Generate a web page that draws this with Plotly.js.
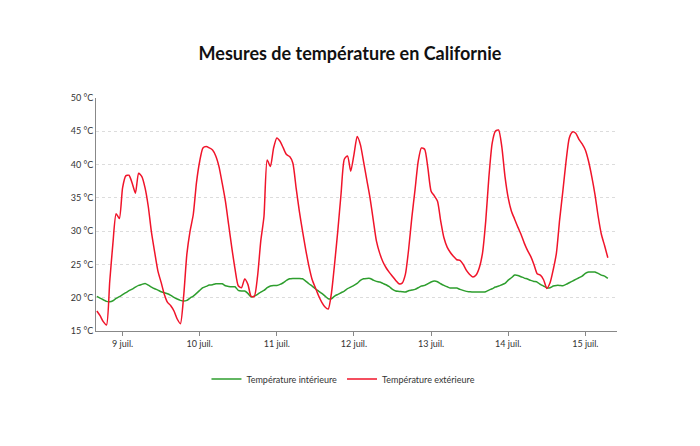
<!DOCTYPE html>
<html>
<head>
<meta charset="utf-8">
<script src="https://cdn.plot.ly/plotly-3.0.1.min.js"></script>
<style>
  html, body { margin: 0; padding: 0; background: #fff; }
  #chart { width: 700px; height: 446px; }
</style>
</head>
<body>
<div id="chart"></div>
<script>
// hourly readings, first one on 8 juil. at 16:00
var startTime = '2023-07-08T16:00:00';

var tempInside = [
  20.2, 19.95, 19.7, 19.45, 19.4, 19.55, 19.9, 20.15,
  20.45, 20.75, 21.05, 21.3, 21.6, 21.85, 22.0, 22.15, 21.9, 21.6, 21.35, 21.15,
  20.9, 20.75, 20.6, 20.35, 20.05, 19.8, 19.6, 19.5, 19.6, 19.95, 20.25, 20.65,
  21.1, 21.5, 21.7, 21.9, 21.95, 22.1, 22.1, 22.1, 21.8, 21.7, 21.65, 21.65,
  21.1, 21.0, 21.0, 20.65, 20.1, 20.25, 20.5, 20.85, 21.1, 21.5, 21.75, 21.85,
  21.85, 22.0, 22.25, 22.6, 22.85, 22.9, 22.9, 22.9, 22.85, 22.5, 22.1, 21.75,
  21.35, 21.0, 20.65, 20.25, 19.85, 19.85, 20.25, 20.5, 20.75, 21.0, 21.35, 21.6,
  21.85, 22.15, 22.6, 22.85, 22.9, 22.9, 22.65, 22.45, 22.35, 22.15, 21.95, 21.65,
  21.25, 21.0, 20.95, 20.9, 20.85, 21.05, 21.15, 21.25, 21.5, 21.75, 21.85, 22.1,
  22.35, 22.5, 22.4, 22.1, 21.85, 21.65, 21.45, 21.45, 21.45, 21.25, 21.1, 20.95,
  20.9, 20.85, 20.85, 20.85, 20.85, 20.9, 21.15, 21.35, 21.6, 21.75, 21.95, 22.15,
  22.65, 23.0, 23.4, 23.35, 23.15, 22.95, 22.8, 22.6, 22.45, 22.35, 22.0, 21.75,
  21.5, 21.5, 21.75, 21.85, 21.85, 21.8, 22.0, 22.25, 22.5, 22.75, 23.0, 23.25,
  23.65, 23.85, 23.85, 23.85, 23.65, 23.4, 23.25, 22.9
];

var tempOutside = [
  18.0, 17.3, 16.4, 15.9, 22.4, 28.2, 32.6, 31.9,
  36.5, 38.3, 38.4, 37.2, 35.7, 38.7, 38.2, 36.5, 33.7, 29.8, 26.8, 24.0,
  22.3, 20.5, 19.3, 18.8, 18.0, 16.8, 16.1, 20.2, 26.5, 30.0, 32.5, 37.3,
  40.5, 42.5, 42.7, 42.5, 42.2, 41.3, 39.7, 37.2, 34.5, 31.0, 27.5, 24.3,
  21.8, 21.5, 22.8, 22.0, 20.2, 20.2, 23.2, 28.5, 32.2, 40.7, 39.7, 42.5,
  44.0, 43.5, 42.5, 41.5, 41.2, 40.2, 36.5, 33.0, 30.0, 27.2, 24.7, 22.7,
  21.5, 20.3, 19.3, 18.6, 18.3, 20.7, 25.2, 30.2, 35.7, 40.8, 41.3, 39.0,
  41.5, 44.2, 43.0, 40.4, 37.7, 35.0, 31.7, 28.5, 26.7, 25.4, 24.5, 23.8,
  23.2, 22.6, 22.1, 22.2, 23.5, 27.2, 32.0, 36.2, 40.5, 42.5, 42.3, 39.5,
  36.0, 35.3, 34.5, 31.5, 29.0, 27.6, 26.8, 26.2, 25.7, 25.6, 25.0, 24.1,
  23.5, 23.1, 23.4, 24.5, 26.7, 31.5, 38.2, 43.2, 45.0, 45.2, 42.7, 38.2,
  35.0, 33.0, 31.8, 30.6, 29.5, 28.2, 27.1, 26.2, 25.0, 23.6, 23.4, 22.7,
  21.4, 22.2, 24.2, 26.7, 31.7, 36.0, 40.5, 44.0, 44.9, 44.7, 43.8, 43.1,
  42.2, 40.5, 38.2, 35.5, 32.2, 29.5, 27.8, 26.0
];

var dayTicks = ['2023-07-09', '2023-07-10', '2023-07-11', '2023-07-12', '2023-07-13', '2023-07-14', '2023-07-15'];
var dayLabels = ['9 juil.', '10 juil.', '11 juil.', '12 juil.', '13 juil.', '14 juil.', '15 juil.'];

function pad(n) { return (n < 10 ? '0' : '') + n; }
function hourStamps(start, count) {
  var t0 = new Date(start + 'Z').getTime();
  var out = [];
  for (var i = 0; i < count; i++) {
    var d = new Date(t0 + i * 3600000);
    out.push(d.getUTCFullYear() + '-' + pad(d.getUTCMonth() + 1) + '-' + pad(d.getUTCDate()) +
      ' ' + pad(d.getUTCHours()) + ':00');
  }
  return out;
}

var times = hourStamps(startTime, tempOutside.length);

var inside = {
  x: times,
  y: tempInside,
  name: 'Température intérieure',
  type: 'scatter',
  mode: 'lines',
  line: { color: '#2e9e2e', width: 1.5, shape: 'spline', smoothing: 0.5 }
};

var outside = {
  x: times,
  y: tempOutside,
  name: 'Température extérieure',
  type: 'scatter',
  mode: 'lines',
  line: { color: '#f0142a', width: 1.5, shape: 'spline', smoothing: 0.6 }
};

var layout = {
  width: 700,
  height: 446,
  margin: { l: 96, r: 83, t: 98, b: 115 },
  paper_bgcolor: '#fff',
  plot_bgcolor: '#fff',
  font: { family: 'Lato, "Open Sans", sans-serif', size: 9, color: '#333' },
  title: {
    text: '<b>Mesures de température en Californie</b>',
    font: { family: 'Lato, sans-serif', size: 18, color: '#111' },
    x: 0.5, xanchor: 'center',
    yref: 'container', y: 0.88, yanchor: 'middle'
  },
  xaxis: {
    type: 'date',
    range: ['2023-07-08 15:44', '2023-07-15 09:51'],
    tickvals: dayTicks,
    ticktext: dayLabels,
    ticks: 'outside',
    ticklen: 4,
    tickcolor: '#888',
    showline: true,
    linecolor: '#888',
    linewidth: 1,
    showgrid: false,
    zeroline: false,
    tickfont: { size: 9, color: '#333' }
  },
  yaxis: {
    range: [15, 50],
    dtick: 5,
    ticksuffix: ' °C',
    showline: true,
    linecolor: '#888',
    linewidth: 1,
    ticks: '',
    showgrid: true,
    gridcolor: '#dcdcdc',
    griddash: '3px,3px',
    zeroline: false,
    tickfont: { size: 9, color: '#333' }
  },
  showlegend: true,
  legend: {
    orientation: 'h',
    x: 0.475, xanchor: 'center',
    y: -0.206, yanchor: 'middle',
    font: { size: 9, color: '#333' },
    itemwidth: 30
  }
};

Plotly.newPlot('chart', [inside, outside], layout, { displayModeBar: false, staticPlot: true });
</script>
</body>
</html>
